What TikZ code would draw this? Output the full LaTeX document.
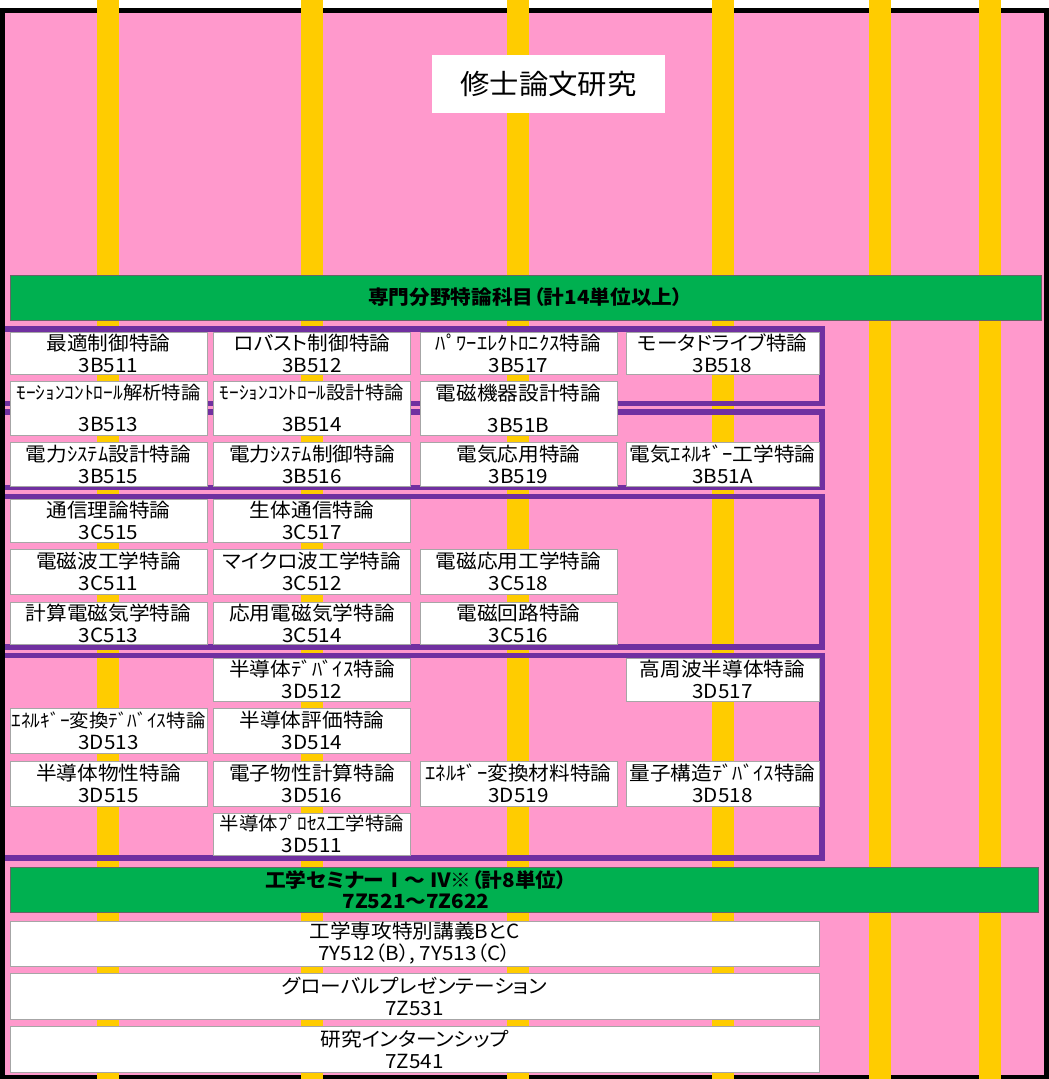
\documentclass[tikz,border=0pt]{standalone}
\usepackage{fontspec}
\newfontfamily\jp[FakeStretch=1.06,RawFeature=+palt]{Noto Sans CJK JP}
\definecolor{pinkbg}{HTML}{FF99CC}
\definecolor{yel}{HTML}{FFCC00}
\definecolor{grn}{HTML}{00B050}
\definecolor{purp}{HTML}{7030A0}
\definecolor{boxgray}{HTML}{A6A6A6}
\newcommand\narrow{\fontsize{18.3}{22}\selectfont}
\tikzset{
  cbox/.style={draw=boxgray, line width=0.8pt, fill=white, inner sep=0pt, align=center,
    font=\jp\fontsize{19.5}{22}\selectfont, minimum width=197pt},
  colfour/.style={minimum width=193pt},
  widebox/.style={cbox, minimum width=809pt, minimum height=45pt},
  greenbar/.style={draw=black!60, line width=0.6pt, fill=grn, inner sep=0pt},
  grouprule/.style={draw=purp, line width=5.5pt},
  stripe/.style={fill=yel},
  bartext/.style={font=\jp\bfseries\fontsize{19.5}{21}\selectfont, align=center, inner sep=0pt}
}
% name, cx, cy, height, line1, line2
\newcommand\crs[6]{\node[cbox, minimum height=#4pt] (#1) at (#2,#3) {#5\\#6};}
\newcommand\crsfour[6]{\node[cbox, colfour, minimum height=#4pt] (#1) at (#2,#3) {#5\\#6};}
\newcommand\crsB[4]{\node[cbox, minimum height=54pt] (#1) at (#2,408) {#3\\[10pt]#4};}
\begin{document}
\begin{tikzpicture}[x=1pt,y=-1pt]
\useasboundingbox (0,0) rectangle (1049,1079);
\fill[white] (0,0) rectangle (1049,1079);
% outer frame
\draw[fill=pinkbg, draw=black, line width=5pt] (2.5,10.5) rectangle (1046.5,1077.5);
% yellow stripes
\foreach \sx in {97,301,507,712,869,979}
  \fill[stripe] (\sx,0) rectangle (\sx+22,1079);
% green bars
\node[greenbar, minimum width=1031pt, minimum height=45pt, bartext] (senmon) at (525.5,297.5)
  {専門分野特論科目（計14単位以上）};
\node[greenbar, minimum width=1028pt, minimum height=45pt] (seminar) at (524,889.5) {};
\node[bartext] (seminartext) at (416,889.5) {工学セミナーⅠ～ Ⅳ※（計8単位）\\7Z521～7Z622};
% group frames (left side hidden behind the outer frame)
\draw[grouprule] (5,329) -- (822,329) -- (822,403.5) -- (5,403.5);
\draw[grouprule] (5,412) -- (822,412) -- (822,487.5) -- (5,487.5);
\draw[grouprule] (5,496.5) -- (822,496.5) -- (822,647) -- (5,647);
\draw[grouprule] (5,655.5) -- (822,655.5) -- (822,858) -- (5,858);
% title
\node[fill=white, minimum width=233pt, minimum height=58pt, inner sep=0pt,
  font=\jp\fontsize{27.7}{30}\selectfont] (title) at (548.5,84) {修士論文研究};
% 3B group
\crs{c3B511}{108.5}{353}{42}{最適制御特論}{3B511}
\crs{c3B512}{312}{353}{42}{ロバスト制御特論}{3B512}
\crs{c3B517}{518.5}{353}{42}{ﾊﾟﾜｰｴﾚｸﾄﾛﾆｸｽ特論}{3B517}
\crsfour{c3B518}{722.5}{353}{42}{モータドライブ特論}{3B518}
\crsB{c3B513}{108.5}{\narrow ﾓｰｼｮﾝｺﾝﾄﾛｰﾙ解析特論}{3B513}
\crsB{c3B514}{312}{\narrow ﾓｰｼｮﾝｺﾝﾄﾛｰﾙ設計特論}{3B514}
\crsB{c3B51B}{518.5}{電磁機器設計特論}{3B51B}
\crs{c3B515}{108.5}{464}{44}{電力ｼｽﾃﾑ設計特論}{3B515}
\crs{c3B516}{312}{464}{44}{電力ｼｽﾃﾑ制御特論}{3B516}
\crs{c3B519}{518.5}{464}{44}{電気応用特論}{3B519}
\crsfour{c3B51A}{722.5}{464}{44}{電気ｴﾈﾙｷﾞｰ工学特論}{3B51A}
% 3C group
\crs{c3C515}{108.5}{520.5}{43}{通信理論特論}{3C515}
\crs{c3C517}{312}{520.5}{43}{生体通信特論}{3C517}
\crs{c3C511}{108.5}{571.5}{45}{電磁波工学特論}{3C511}
\crs{c3C512}{312}{571.5}{45}{マイクロ波工学特論}{3C512}
\crs{c3C518}{518.5}{571.5}{45}{電磁応用工学特論}{3C518}
\crs{c3C513}{108.5}{623}{42}{計算電磁気学特論}{3C513}
\crs{c3C514}{312}{623}{42}{応用電磁気学特論}{3C514}
\crs{c3C516}{518.5}{623}{42}{電磁回路特論}{3C516}
% 3D group
\crs{c3D512}{312}{679.5}{43}{半導体ﾃﾞﾊﾞｲｽ特論}{3D512}
\crsfour{c3D517}{722.5}{679.5}{43}{高周波半導体特論}{3D517}
\crs{c3D513}{108.5}{730.5}{45}{\narrow ｴﾈﾙｷﾞｰ変換ﾃﾞﾊﾞｲｽ特論}{3D513}
\crs{c3D514}{312}{730.5}{45}{半導体評価特論}{3D514}
\crs{c3D515}{108.5}{783.5}{45}{半導体物性特論}{3D515}
\crs{c3D516}{312}{783.5}{45}{電子物性計算特論}{3D516}
\crs{c3D519}{518.5}{783.5}{45}{ｴﾈﾙｷﾞｰ変換材料特論}{3D519}
\crsfour{c3D518}{722.5}{783.5}{45}{量子構造ﾃﾞﾊﾞｲｽ特論}{3D518}
\crs{c3D511}{312}{834}{42}{\narrow 半導体ﾌﾟﾛｾｽ工学特論}{3D511}
% common courses
\node[widebox] (c7Y512) at (414.5,943.5) {工学専攻特別講義BとC\\7Y512（B）, 7Y513（C）};
\node[widebox, minimum height=46pt] (c7Z531) at (414.5,996) {グローバルプレゼンテーション\\7Z531};
\node[widebox, minimum height=46pt] (c7Z541) at (414.5,1049) {研究インターンシップ\\7Z541};
\end{tikzpicture}
\end{document}
